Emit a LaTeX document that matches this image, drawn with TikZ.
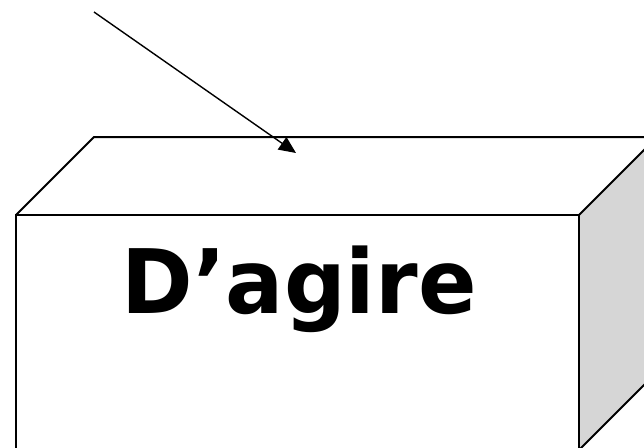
\documentclass[tikz,border=0pt]{standalone}
\usepackage{fontspec}
\setmainfont{DejaVu Sans}
\usetikzlibrary{arrows.meta}
\definecolor{sidegray}{RGB}{214,214,214}
\tikzset{edge/.style={draw=black,line width=2pt,line join=miter},
  pointer/.style={draw=black,line width=1.4pt,-{Triangle[length=17pt,width=15pt]}}}
\begin{document}
\begin{tikzpicture}[x=1pt,y=-1pt]
\useasboundingbox (0,0) rectangle (644,447);
% side face
\fill[sidegray] (579,215) -- (657,137) -- (657,372) -- (579,450) -- cycle;
\draw[edge] (579,215) -- (657,137);
\draw[edge] (579,450) -- (657,372);
% top face
\draw[edge] (16,215) -- (94,137) -- (660,137);
% front face
\draw[edge] (16,460) -- (16,215) -- (579,215) -- (579,460);
\node[font=\bfseries\fontsize{89}{89}\selectfont, anchor=base, inner sep=0pt, xscale=0.97] (label) at (299,313) {D’agire};
\coordinate (start) at (94,12);
\coordinate (tip) at (296,153);
\draw[pointer] (start) -- (tip);
\end{tikzpicture}
\end{document}
